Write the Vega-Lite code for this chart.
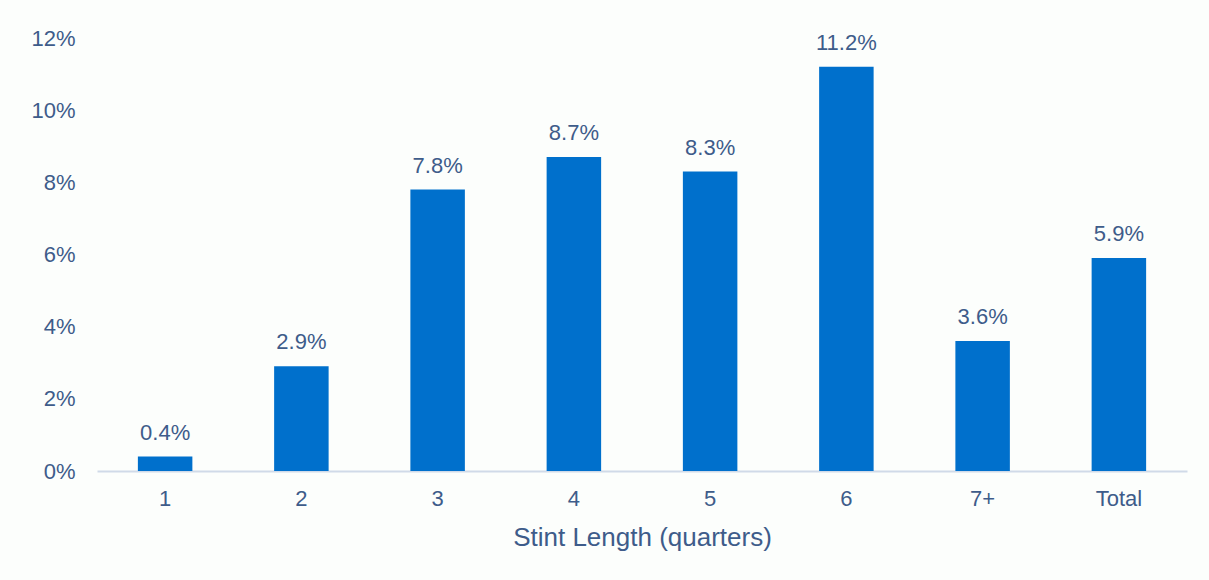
{
  "$schema": "https://vega.github.io/schema/vega-lite/v6.json",
  "autosize": {"type": "none"},
  "width": 1090,
  "height": 433,
  "padding": {"left": 97, "top": 38, "right": 22, "bottom": 109},
  "background": "#FCFEFC",
  "config": {"view": {"stroke": null}, "font": "Liberation Sans"},
  "data": {"values": [
    {"stint": "1", "rate": 0.004, "label": "0.4%"},
    {"stint": "2", "rate": 0.029, "label": "2.9%"},
    {"stint": "3", "rate": 0.078, "label": "7.8%"},
    {"stint": "4", "rate": 0.087, "label": "8.7%"},
    {"stint": "5", "rate": 0.083, "label": "8.3%"},
    {"stint": "6", "rate": 0.112, "label": "11.2%"},
    {"stint": "7+", "rate": 0.036, "label": "3.6%"},
    {"stint": "Total", "rate": 0.059, "label": "5.9%"}
  ]},
  "encoding": {
    "x": {"field": "stint", "type": "nominal", "sort": null,
      "scale": {"paddingInner": 0.6, "paddingOuter": 0.3},
      "axis": {"title": "Stint Length (quarters)", "labelAngle": 0, "labelFontSize": 22, "labelColor": "#3E5C8A",
        "titleFontSize": 26, "titleColor": "#3E5C8A", "titleFontWeight": "normal", "titlePadding": 15,
        "ticks": false, "labelPadding": 17, "domainColor": "#D0DAE8", "domainWidth": 2}},
    "y": {"field": "rate", "type": "quantitative",
      "scale": {"domain": [0, 0.12]},
      "axis": {"format": ".0%", "values": [0, 0.02, 0.04, 0.06, 0.08, 0.1, 0.12], "title": null, "grid": false,
        "domain": false, "ticks": false, "labelFontSize": 22, "labelColor": "#3E5C8A", "labelPadding": 22}}
  },
  "layer": [
    {"mark": {"type": "bar", "color": "#0070CC"}},
    {"mark": {"type": "text", "baseline": "bottom", "dy": -12, "fontSize": 22, "color": "#3E5C8A"},
     "encoding": {"text": {"field": "label"}}}
  ]
}
